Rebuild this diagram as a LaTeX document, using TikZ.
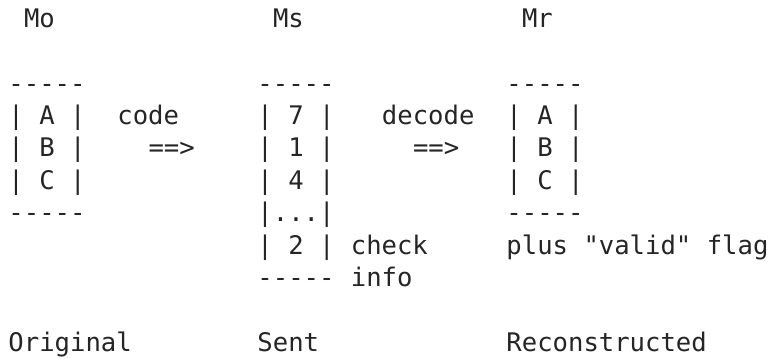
\documentclass[tikz,border=0pt]{standalone}
\usepackage{fontspec}
\setmonofont{DejaVu Sans Mono}
\definecolor{ink}{HTML}{252525}

\begin{document}
\begin{tikzpicture}[x=11.67pt,y=-24.3pt,
  txt/.style={anchor=base west,inner sep=0pt,outer sep=0pt,text=ink,font=\ttfamily\fontsize{19.2pt}{24.3pt}\selectfont}]
\useasboundingbox (-0.546,-0.8395) rectangle (49.13,10.21);
\path[every node/.style=txt] (1,0) node(Mo){Mo} (17,0) node(Ms){Ms} (33,0) node(Mr){Mr};

\path[every node/.style=txt] (0,2) node(otop){-----} (0,3) node(oA){| A |} (0,4) node(oB){| B |} (0,5) node(oC){| C |} (0,6) node(obot){-----};
\path[every node/.style=txt] (7,3) node(code){code} (9,4) node(oarrow){==>};

\path[every node/.style=txt] (16,2) node(stop){-----} (16,3) node(s7){| 7 |} (16,4) node(s1){| 1 |} (16,5) node(s4){| 4 |} (16,6) node(sdots){|...|} (16,7) node(s2){| 2 |} (16,8) node(sbot){-----};
\path[every node/.style=txt] (22,7) node(check){check} (22,8) node(info){info};
\path[every node/.style=txt] (24,3) node(decode){decode} (26,4) node(sarrow){==>};

\path[every node/.style=txt] (32,2) node(rtop){-----} (32,3) node(rA){| A |} (32,4) node(rB){| B |} (32,5) node(rC){| C |} (32,6) node(rbot){-----};
\path[every node/.style=txt] (32,7) node(flag){plus "valid" flag};

\path[every node/.style=txt] (0,10) node(Original){Original} (16,10) node(Sent){Sent} (32,10) node(Reconstructed){Reconstructed};
\end{tikzpicture}
\end{document}
